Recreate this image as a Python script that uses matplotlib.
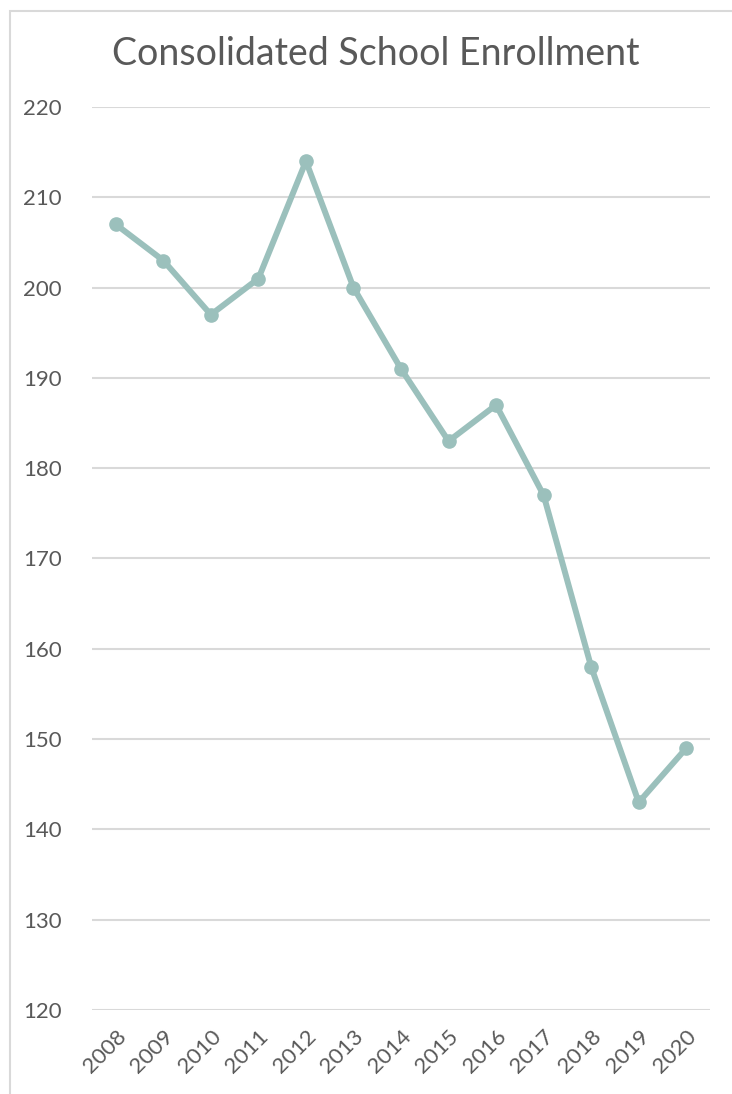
import numpy as np
import matplotlib.pyplot as plt
from matplotlib.patches import Rectangle

# Datos de matrícula por año
anios = ["2008", "2009", "2010", "2011", "2012", "2013", "2014",
         "2015", "2016", "2017", "2018", "2019", "2020"]
matricula = [207, 203, 197, 201, 214, 200, 191, 183, 187, 177, 158, 143, 149]

gris_texto = "#595959"
gris_linea = "#d9d9d9"
color_serie = "#9bc0bc"

fig = plt.figure(figsize=(7.32, 10.94), dpi=100)
ax = fig.add_axes([0.1257, 0.0768, 0.8443, 0.8254])

# Marco del gráfico
fig.patches.append(Rectangle((0.0137, -0.1), 1.2, 1.09, transform=fig.transFigure,
                             fill=False, edgecolor=gris_linea, linewidth=1.5))

posicion = np.arange(len(anios))
ax.plot(posicion, matricula, color=color_serie, linewidth=4.3,
        marker="o", markersize=9.5, solid_capstyle="round", zorder=3)

ax.set_xlim(-0.5, len(anios) - 0.5)
ax.set_ylim(120, 220)
ax.set_yticks(np.arange(120, 221, 10))
ax.set_xticks(posicion)
ax.set_xticklabels(anios, rotation=45, ha="right", va="top", rotation_mode="anchor")

ax.grid(axis="y", color=gris_linea, linewidth=1.5)
ax.set_axisbelow(True)
for lado in ax.spines.values():
    lado.set_visible(False)
ax.tick_params(length=0, labelsize=16, labelcolor=gris_texto)
ax.tick_params(axis="y", pad=22)
ax.tick_params(axis="x", pad=12)
for t in ax.get_xticklabels() + ax.get_yticklabels():
    t.set_fontfamily("Lato")

fig.text(0.514, 0.951, "Consolidated School Enrollment", ha="center", va="center",
         fontsize=27, color=gris_texto, fontfamily="Lato")

fig.savefig("out.png", dpi=100)
